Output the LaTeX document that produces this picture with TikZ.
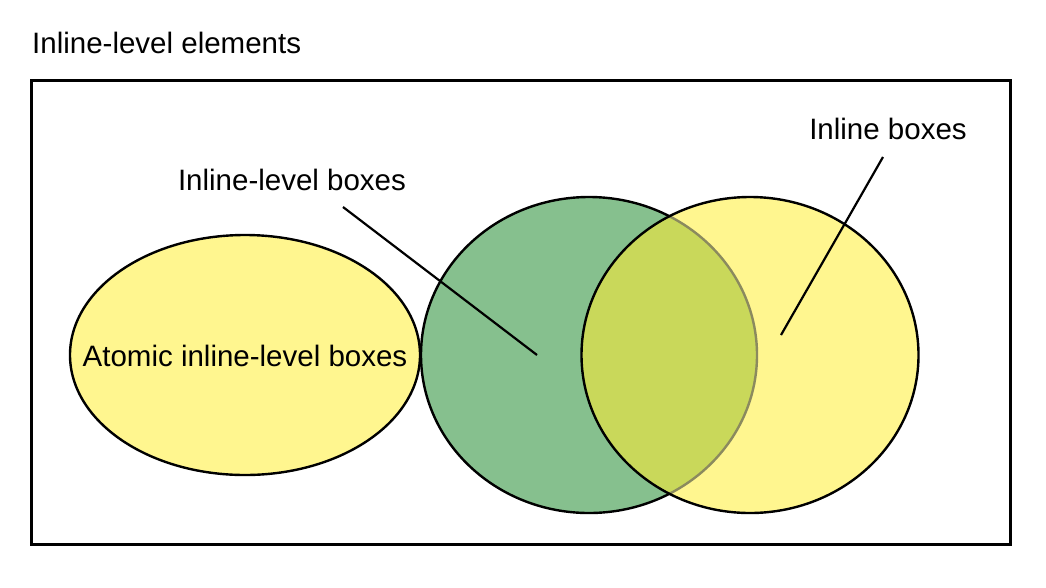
\documentclass[tikz,border=0pt]{standalone}
\usepackage{fontspec}
\setmainfont{Liberation Sans}
\usetikzlibrary{shapes.geometric}
\definecolor{yel}{HTML}{FFF68F}
\definecolor{grn}{HTML}{86C08E}
\definecolor{ovl}{HTML}{C9D85A}
\definecolor{gry}{HTML}{8B8A5E}
\tikzset{
  lbl/.style={font=\fontsize{29.5}{34}\selectfont, inner sep=0pt},
  venn/.style={ellipse, line width=2.4pt, inner sep=0pt},
  leader/.style={line width=2.2pt}
}
\begin{document}
\begin{tikzpicture}[x=1pt,y=-1pt]
\useasboundingbox (0,0) rectangle (1046,587);
\node[draw, line width=2.6pt, minimum width=979pt, minimum height=464pt, anchor=north west, inner sep=0pt] (frame) at (30,79) {};
\node[lbl, anchor=west] (title) at (32,43) {Inline-level elements};
% left ellipse
\node[venn, draw, fill=yel, minimum width=350pt, minimum height=240pt] (atomic) at (245,355) {};
\node[lbl] (atomiclbl) at (245,356) {Atomic inline-level boxes};
% green ellipse
\node[venn, draw, fill=grn, minimum width=336pt, minimum height=316pt] (ilb) at (589,355) {};
% yellow ellipse fill
\node[venn, fill=yel, minimum width=337pt, minimum height=316pt] (ib) at (750,355) {};
% overlap
\begin{scope}
  \clip (589,355) ellipse [x radius=168, y radius=158];
  \fill[ovl] (750,355) ellipse [x radius=168.5, y radius=158];
\end{scope}
\begin{scope}
  \clip (750,355) ellipse [x radius=168.5, y radius=158];
  \draw[gry, line width=2.4pt] (589,355) ellipse [x radius=168, y radius=158];
\end{scope}
\node[venn, draw, minimum width=337pt, minimum height=316pt] (ibborder) at (750,355) {};
% labels and leaders
\node[lbl] (ilblbl) at (292,180) {Inline-level boxes};
\node[lbl] (iblbl) at (888,129) {Inline boxes};
\coordinate (p1) at (537,355);
\coordinate (p2) at (781,335);
\draw[leader] (343,207) coordinate (s1) -- (p1);
\draw[leader] (883,157) coordinate (s2) -- (p2);
\end{tikzpicture}
\end{document}
